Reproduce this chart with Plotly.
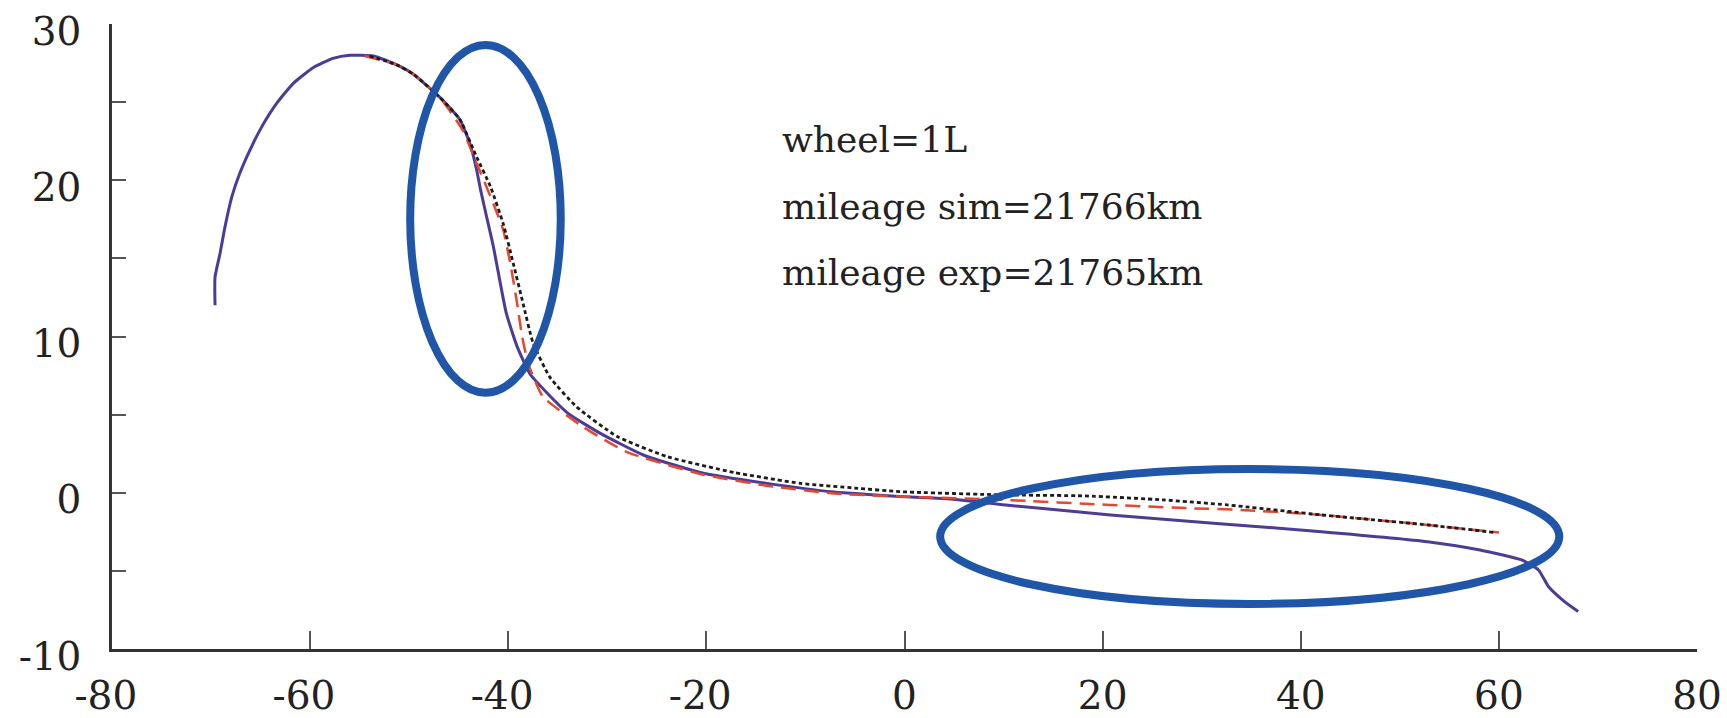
import plotly.graph_objects as go

# Wheel profile curves (x: lateral position, y: profile height)
sim_x = [-69.6, -69.6, -69.1, -68.6, -67.9, -67.1, -66.1, -64.9, -63.4, -61.7, -59.7, -57.7,
         -56.0, -53.6, -51.3, -49.6, -46.9, -44.9, -43.9, -43.2, -42.8, -42.2, -41.5, -40.8,
         -40.2, -39.1, -37.8, -36.1, -34.0, -30.7, -26.3, -20.6, -13.9, -7.1, 0.0, 4.7,
         10.2, 20.8, 31.5, 42.1, 52.8, 58.1, 62.3, 64.0, 65.0, 66.5, 68.0]
sim_y = [12.0, 13.8, 15.3, 17.0, 18.95, 20.45, 21.9, 23.4, 24.9, 26.2, 27.2, 27.8,
         28.0, 27.95, 27.4, 26.8, 25.3, 23.9, 22.4, 20.7, 19.4, 17.7, 15.75, 13.4,
         11.5, 9.35, 7.6, 6.4, 5.1, 3.8, 2.4, 1.3, 0.6, 0.05, -0.25, -0.4,
         -0.78, -1.42, -1.96, -2.49, -3.13, -3.66, -4.3, -4.94, -6.0, -6.9, -7.6]

exp_x = [-54.5, -51.3, -49.6, -46.9, -44.6, -43.2, -41.5, -40.5, -39.8, -39.1, -38.6,
         -38.0, -36.5, -32.4, -28.0, -20.6, -13.9, -7.1, 0.0, 10.2, 20.8, 28.8, 34.0,
         42.1, 52.8, 60.0]
exp_y = [27.95, 27.4, 26.8, 25.3, 23.2, 21.1, 18.5, 16.8, 14.7, 12.1, 10.0,
         8.3, 6.15, 4.2, 2.6, 1.2, 0.45, -0.05, -0.25, -0.46, -0.78, -0.99, -1.1,
         -1.42, -2.06, -2.55]

ref_x = [-54.0, -51.3, -49.6, -46.9, -44.9, -43.2, -41.8, -40.5, -39.5, -38.5, -37.5,
         -35.8, -33.1, -29.0, -23.9, -17.2, -10.5, -5.0, -0.45, 10.2, 18.2, 26.2, 32.6,
         42.1, 52.8, 59.7]
ref_y = [27.95, 27.4, 26.8, 25.3, 23.9, 21.5, 19.6, 17.2, 14.7, 12.1, 9.6,
         7.4, 5.5, 3.6, 2.3, 1.3, 0.6, 0.3, 0.07, -0.14, -0.2, -0.46, -0.78,
         -1.42, -2.06, -2.55]

x_ticks = [-80, -60, -40, -20, 0, 20, 40, 60, 80]
x_labels = ["-80 ", "-60 ", "-40 ", "-20 ", "0", "20", "40", "60", "80"]
y_ticks = [-10, -5, 0, 5, 10, 15, 20, 25, 30]
y_labels = ["-10", "", "0", "", "10", "", "20", "", "30"]

notes = ["wheel=1L", "mileage sim=21766km", "mileage exp=21765km"]

W, H = 1727, 718
L, R, T, B = 112, 30, 24, 69
PH = H - T - B

fig = go.Figure()
fig.add_trace(go.Scatter(x=sim_x, y=sim_y, mode="lines",
                         line=dict(color="#4e3b98", width=3, shape="spline", smoothing=0.5)))
fig.add_trace(go.Scatter(x=exp_x, y=exp_y, mode="lines",
                         line=dict(color="#e5482f", width=2.5, dash="15px,8px",
                                   shape="spline", smoothing=0.5)))
fig.add_trace(go.Scatter(x=ref_x, y=ref_y, mode="lines",
                         line=dict(color="#1c1c1c", width=2.8, dash="4px,3px",
                                   shape="spline", smoothing=0.5)))

# highlight ellipses
ring = dict(color="#1f56a7", width=8)
fig.add_shape(type="circle", xref="x", yref="y", x0=-49.9, x1=-34.7, y0=6.4, y1=28.66, line=ring)
fig.add_shape(type="circle", xref="x", yref="y", x0=3.6, x1=66.1, y0=-7.12, y1=1.52, line=ring)

centers = [139.5, 206, 272.5]
for txt, cy in zip(notes, centers):
    fig.add_annotation(text=txt, xref="paper", yref="paper",
                       x=(780 - L) / (W - L - R), y=(H - B - cy) / PH,
                       xanchor="left", yanchor="middle", showarrow=False,
                       font=dict(family="DejaVu Serif", size=36, color="#222222"))

axis_common = dict(showgrid=False, zeroline=False, showline=True, linecolor="#333333",
                   linewidth=2.5, ticks="inside", tickcolor="#555555", tickwidth=2,
                   automargin=False,
                   tickfont=dict(family="DejaVu Serif", size=39, color="#222222"))

fig.update_xaxes(range=[-80, 80], tickmode="array", tickvals=x_ticks, ticktext=x_labels,
                 ticklen=18, ticklabelstandoff=10, **axis_common)
fig.update_yaxes(range=[-10, 30], tickmode="array", tickvals=y_ticks, ticktext=y_labels,
                 ticklen=14, ticklabelstandoff=20, ticklabelshift=7, **axis_common)

fig.update_layout(width=W, height=H, margin=dict(l=L, r=R, t=T, b=B),
                  paper_bgcolor="white", plot_bgcolor="white", showlegend=False)

fig.write_html("out.html")
